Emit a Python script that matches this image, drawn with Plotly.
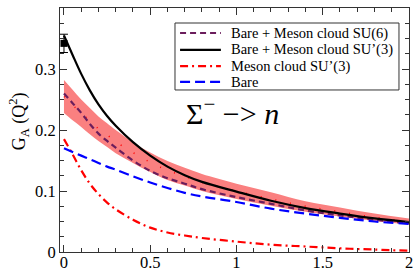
import plotly.graph_objects as go

q2 = [0, 0.05, 0.1, 0.15, 0.2, 0.25, 0.3, 0.4, 0.5, 0.6, 0.7, 0.8, 1.0, 1.2, 1.4, 1.6, 1.8, 2.0]

bare = [0.170, 0.164, 0.158, 0.152, 0.146, 0.140, 0.135, 0.124, 0.114, 0.105, 0.097, 0.091, 0.082, 0.071, 0.063, 0.056, 0.050, 0.046]
meson_su3 = [0.185, 0.160, 0.134, 0.112, 0.095, 0.081, 0.070, 0.053, 0.040, 0.032, 0.027, 0.023, 0.017, 0.012, 0.009, 0.006, 0.004, 0.002]
total_su3 = [0.355, 0.323, 0.292, 0.265, 0.242, 0.223, 0.207, 0.180, 0.158, 0.140, 0.126, 0.115, 0.099, 0.084, 0.072, 0.063, 0.055, 0.049]
total_su6 = [0.260, 0.244, 0.228, 0.210, 0.194, 0.182, 0.171, 0.150, 0.133, 0.121, 0.112, 0.103, 0.090, 0.079, 0.068, 0.060, 0.053, 0.047]
band_hi = [0.282, 0.266, 0.250, 0.236, 0.222, 0.211, 0.200, 0.180, 0.163, 0.149, 0.138, 0.128, 0.112, 0.098, 0.083, 0.073, 0.063, 0.055]
band_lo = [0.228, 0.216, 0.205, 0.193, 0.182, 0.172, 0.162, 0.146, 0.131, 0.118, 0.109, 0.100, 0.087, 0.076, 0.066, 0.058, 0.051, 0.045]
band_mid = [0.255, 0.241, 0.228, 0.215, 0.202, 0.192, 0.181, 0.163, 0.147, 0.134, 0.124, 0.114, 0.100, 0.087, 0.075, 0.066, 0.057, 0.050]

exp_x = [0.0]
exp_y = [0.342]
exp_err = [0.015]

legend_labels = ["Bare + Meson cloud SU(6)", "Bare + Meson cloud SU\u2019(3)", "Meson cloud SU\u2019(3)", "Bare"]
legend_colors = ["#6b1d5c", "black", "#ff0000", "#0000ff"]
legend_dashes = ["6px,4px", "solid", "8px,4px,2px,4px", "10px,5px"]

FONT = "Liberation Serif"
AX = "#333333"

fig = go.Figure()

fig.add_trace(go.Scatter(x=q2, y=band_hi, mode="lines", line=dict(width=0, shape="spline"),
                         showlegend=False, hoverinfo="skip"))
fig.add_trace(go.Scatter(x=q2, y=band_lo, mode="lines", line=dict(width=0, shape="spline"),
                         fill="tonexty", fillcolor="rgb(250,128,128)", showlegend=False, hoverinfo="skip"))
fig.add_trace(go.Scatter(x=q2, y=band_mid, mode="lines", showlegend=False, hoverinfo="skip",
                         line=dict(color="#ff0000", width=1.5, dash="1px,14px", shape="spline")))

series = [total_su6, total_su3, meson_su3, bare]
for ys, name, col, dash in zip(series, legend_labels, legend_colors, legend_dashes):
    fig.add_trace(go.Scatter(x=q2, y=ys, mode="lines", name=name, showlegend=False,
                             line=dict(color=col, width=2.2, dash=dash, shape="spline")))

fig.add_trace(go.Scatter(x=exp_x, y=exp_y, mode="markers", showlegend=False,
                         marker=dict(symbol="square", size=7, color="black"),
                         error_y=dict(type="data", array=exp_err, color="black", thickness=1, width=4)))

# legend box (drawn as in the original, xmgrace style)
fig.add_shape(type="rect", xref="paper", yref="paper", x0=0.3295, x1=0.9713, y0=0.664, y1=0.9385,
              line=dict(color=AX, width=1), fillcolor="white", layer="above")
row_y = [0.8975, 0.828, 0.762, 0.697]
for yy, lab, col, dash in zip(row_y, legend_labels, legend_colors, legend_dashes):
    fig.add_shape(type="line", xref="paper", yref="paper", x0=0.344, x1=0.461, y0=yy, y1=yy,
                  line=dict(color=col, width=2.2, dash=dash), layer="above")
    fig.add_annotation(xref="paper", yref="paper", x=0.484, y=yy, xanchor="left", yanchor="middle",
                       text=lab, showarrow=False, font=dict(family=FONT, size=14.5, color="black"))

fig.add_annotation(x=0.977, y=0.231, xref="x", yref="y", showarrow=False,
                   text="\u03a3<sup>\u2212</sup> \u2212> <i>n</i>",
                   font=dict(family=FONT, size=30, color="black"))

fig.add_annotation(xref="paper", yref="paper", x=-0.158, y=0.537, textangle=-90, showarrow=False,
                   text="G<sub>A</sub> (Q<sup>2</sup>)", font=dict(family=FONT, size=18, color="black"))

axis_common = dict(showline=True, linecolor=AX, linewidth=1, mirror="ticks",
                   ticks="inside", tickcolor=AX, ticklen=7, showgrid=False, zeroline=False,
                   tickfont=dict(family=FONT, size=16.5, color="black"))

fig.update_xaxes(range=[-0.023, 2.0], tickvals=[0, 0.5, 1, 1.5, 2], ticktext=["0", "0.5", "1", "1.5", "2"],
                 minor=dict(ticks="inside", dtick=0.1, tick0=0, ticklen=4, tickcolor=AX),
                 ticklabelstandoff=-5, **axis_common)
fig.update_yaxes(range=[0, 0.4], tickvals=[0, 0.1, 0.2, 0.3, 0.4], ticktext=["0", "0.1", "0.2", "0.3", "0.4"],
                 minor=dict(ticks="inside", dtick=0.025, tick0=0, ticklen=4, tickcolor=AX),
                 **axis_common)

fig.update_layout(
    width=415, height=270,
    margin=dict(l=60, r=6, t=8, b=18, autoexpand=False),
    paper_bgcolor="white", plot_bgcolor="white",
    font=dict(family=FONT, color="black"),
    showlegend=False,
)

fig.write_html("out.html", config={"displayModeBar": False},
               post_script="document.body.style.margin='0';")
